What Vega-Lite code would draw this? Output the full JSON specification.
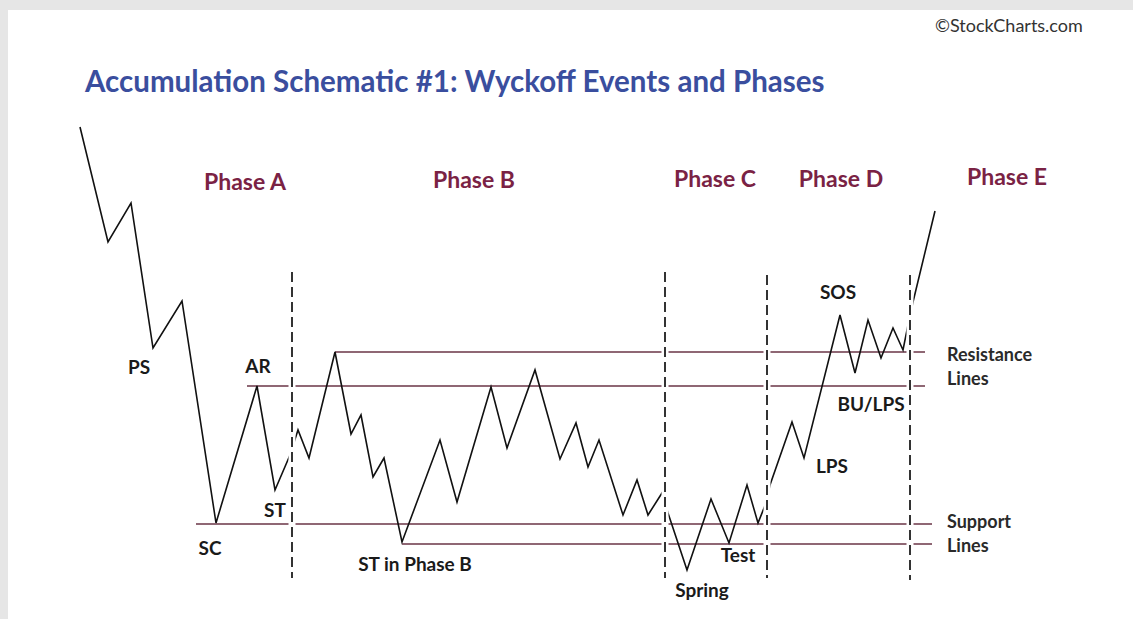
{
  "$schema": "https://vega.github.io/schema/vega-lite/v6.json",
  "width": 1133,
  "height": 619,
  "padding": 0,
  "autosize": {"type": "fit", "contains": "padding"},
  "background": "#e6e6e6",
  "config": {"view": {"stroke": null}},
  "datasets": {
    "frame": [{"x": 8, "x2": 1133, "y": 10, "y2": 619}],
    "price": [
      {"i": 1, "x": 80, "y": 127}, {"i": 2, "x": 108, "y": 242}, {"i": 3, "x": 131, "y": 203},
      {"i": 4, "x": 153, "y": 348}, {"i": 5, "x": 182, "y": 301}, {"i": 6, "x": 216, "y": 523},
      {"i": 7, "x": 257, "y": 386}, {"i": 8, "x": 275, "y": 490}, {"i": 9, "x": 290, "y": 455},
      {"i": 10, "x": 298, "y": 430}, {"i": 11, "x": 309, "y": 458}, {"i": 12, "x": 335, "y": 352},
      {"i": 13, "x": 351, "y": 434}, {"i": 14, "x": 361, "y": 415}, {"i": 15, "x": 373, "y": 477},
      {"i": 16, "x": 384, "y": 458}, {"i": 17, "x": 402, "y": 542}, {"i": 18, "x": 440, "y": 440},
      {"i": 19, "x": 457, "y": 502}, {"i": 20, "x": 491, "y": 387}, {"i": 21, "x": 507, "y": 448},
      {"i": 22, "x": 535, "y": 370}, {"i": 23, "x": 560, "y": 459}, {"i": 24, "x": 576, "y": 423},
      {"i": 25, "x": 588, "y": 467}, {"i": 26, "x": 599, "y": 440}, {"i": 27, "x": 623, "y": 515},
      {"i": 28, "x": 637, "y": 480}, {"i": 29, "x": 648, "y": 515}, {"i": 30, "x": 662, "y": 493},
      {"i": 31, "x": 668, "y": 513}, {"i": 32, "x": 687, "y": 570}, {"i": 33, "x": 711, "y": 499},
      {"i": 34, "x": 729, "y": 543}, {"i": 35, "x": 747, "y": 485}, {"i": 36, "x": 758, "y": 523},
      {"i": 37, "x": 766, "y": 503}, {"i": 38, "x": 770, "y": 485}, {"i": 39, "x": 792, "y": 422},
      {"i": 40, "x": 804, "y": 458}, {"i": 41, "x": 840, "y": 315}, {"i": 42, "x": 855, "y": 373},
      {"i": 43, "x": 868, "y": 320}, {"i": 44, "x": 881, "y": 358}, {"i": 45, "x": 893, "y": 328},
      {"i": 46, "x": 903, "y": 350}, {"i": 47, "x": 908, "y": 325}, {"i": 48, "x": 913, "y": 302},
      {"i": 49, "x": 935, "y": 211}
    ],
    "levels": [
      {"x": 335, "x2": 925, "y": 352},
      {"x": 247, "x2": 925, "y": 386},
      {"x": 196, "x2": 932, "y": 524},
      {"x": 402, "x2": 932, "y": 544}
    ],
    "dividers": [
      {"x": 292, "y": 272, "y2": 578},
      {"x": 665, "y": 272, "y2": 578},
      {"x": 767, "y": 275, "y2": 578},
      {"x": 910, "y": 275, "y2": 580}
    ],
    "phases": [
      {"text": "Phase A", "x": 245, "y": 183},
      {"text": "Phase B", "x": 474, "y": 181},
      {"text": "Phase C", "x": 715, "y": 180},
      {"text": "Phase D", "x": 841, "y": 180},
      {"text": "Phase E", "x": 1007, "y": 178}
    ],
    "events": [
      {"text": "PS", "x": 139, "y": 368},
      {"text": "AR", "x": 258, "y": 367},
      {"text": "ST", "x": 275, "y": 511},
      {"text": "SC", "x": 210, "y": 549},
      {"text": "ST in Phase B", "x": 415, "y": 565},
      {"text": "Spring", "x": 702, "y": 591},
      {"text": "Test", "x": 738, "y": 556},
      {"text": "SOS", "x": 838, "y": 293},
      {"text": "BU/LPS", "x": 871, "y": 405},
      {"text": "LPS", "x": 832, "y": 467}
    ],
    "notes": [
      {"text": "Resistance", "x": 947, "y": 356},
      {"text": "Lines", "x": 947, "y": 380},
      {"text": "Support", "x": 947, "y": 523},
      {"text": "Lines", "x": 947, "y": 547}
    ],
    "heading": [{"text": "Accumulation Schematic #1: Wyckoff Events and Phases", "x": 85, "y": 83}],
    "credit": [{"text": "©StockCharts.com", "x": 935, "y": 27}]
  },
  "layer": [
    {
      "data": {"name": "frame"},
      "mark": {"type": "rect", "color": "#ffffff"},
      "encoding": {
        "x": {"field": "x", "type": "quantitative", "scale": {"domain": [0, 1133], "nice": false, "zero": false}, "axis": null},
        "x2": {"field": "x2"},
        "y": {"field": "y", "type": "quantitative", "scale": {"domain": [0, 619], "nice": false, "zero": false, "reverse": true}, "axis": null},
        "y2": {"field": "y2"}
      }
    },
    {
      "data": {"name": "levels"},
      "mark": {"type": "rule", "color": "#6a3446", "strokeWidth": 1.6},
      "encoding": {
        "x": {"field": "x", "type": "quantitative"},
        "x2": {"field": "x2"},
        "y": {"field": "y", "type": "quantitative"}
      }
    },
    {
      "data": {"name": "price"},
      "mark": {"type": "line", "color": "#111111", "strokeWidth": 1.6, "strokeJoin": "miter"},
      "encoding": {
        "x": {"field": "x", "type": "quantitative"},
        "y": {"field": "y", "type": "quantitative"},
        "order": {"field": "i", "type": "quantitative"}
      }
    },
    {
      "data": {"name": "dividers"},
      "mark": {"type": "rule", "color": "#ffffff", "strokeWidth": 7},
      "encoding": {
        "x": {"field": "x", "type": "quantitative"},
        "y": {"field": "y", "type": "quantitative"},
        "y2": {"field": "y2"}
      }
    },
    {
      "data": {"name": "dividers"},
      "mark": {"type": "rule", "color": "#333333", "strokeWidth": 2, "strokeDash": [10, 5]},
      "encoding": {
        "x": {"field": "x", "type": "quantitative"},
        "y": {"field": "y", "type": "quantitative"},
        "y2": {"field": "y2"}
      }
    },
    {
      "data": {"name": "phases"},
      "mark": {"type": "text", "font": "Lato", "fontWeight": "bold", "fontSize": 23, "color": "#7a2244", "align": "center", "baseline": "middle"},
      "encoding": {
        "x": {"field": "x", "type": "quantitative"},
        "y": {"field": "y", "type": "quantitative"},
        "text": {"field": "text"}
      }
    },
    {
      "data": {"name": "events"},
      "mark": {"type": "text", "font": "Lato", "fontWeight": "bold", "fontSize": 19, "color": "#1a1a1a", "align": "center", "baseline": "middle"},
      "encoding": {
        "x": {"field": "x", "type": "quantitative"},
        "y": {"field": "y", "type": "quantitative"},
        "text": {"field": "text"}
      }
    },
    {
      "data": {"name": "notes"},
      "mark": {"type": "text", "font": "Lato", "fontWeight": "bold", "fontSize": 18, "color": "#2a2a2a", "align": "left", "baseline": "middle"},
      "encoding": {
        "x": {"field": "x", "type": "quantitative"},
        "y": {"field": "y", "type": "quantitative"},
        "text": {"field": "text"}
      }
    },
    {
      "data": {"name": "heading"},
      "mark": {"type": "text", "font": "Lato", "fontWeight": "bold", "fontSize": 29.5, "color": "#3a4e9e", "align": "left", "baseline": "middle"},
      "encoding": {
        "x": {"field": "x", "type": "quantitative"},
        "y": {"field": "y", "type": "quantitative"},
        "text": {"field": "text"}
      }
    },
    {
      "data": {"name": "credit"},
      "mark": {"type": "text", "font": "Lato", "fontSize": 18, "color": "#333333", "align": "left", "baseline": "middle"},
      "encoding": {
        "x": {"field": "x", "type": "quantitative"},
        "y": {"field": "y", "type": "quantitative"},
        "text": {"field": "text"}
      }
    }
  ]
}
